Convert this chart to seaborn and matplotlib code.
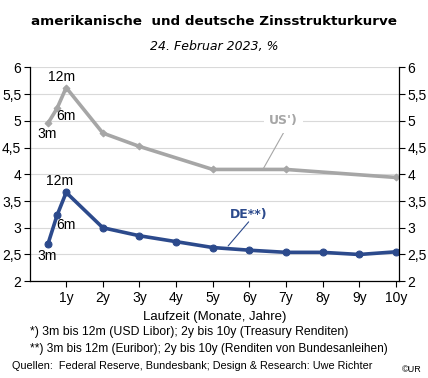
import pandas as pd
import matplotlib.pyplot as plt
import seaborn as sns

# Laufzeiten in Jahren (3m, 6m, 12m, 2y ...)
us_x = [0.5, 0.75, 1, 2, 3, 5, 7, 10]
us_y = [4.95, 5.23, 5.62, 4.77, 4.52, 4.09, 4.09, 3.94]
de_x = [0.5, 0.75, 1, 2, 3, 4, 5, 6, 7, 8, 9, 10]
de_y = [2.69, 3.23, 3.66, 3.00, 2.85, 2.74, 2.63, 2.58, 2.54, 2.54, 2.50, 2.55]
month_labels = ["3m", "6m", "12m"]
year_ticks = [1, 2, 3, 4, 5, 6, 7, 8, 9, 10]
year_labels = [f"{y}y" for y in year_ticks]
y_ticks = [2, 2.5, 3, 3.5, 4, 4.5, 5, 5.5, 6]

us = pd.DataFrame({"x": us_x, "y": us_y})
de = pd.DataFrame({"x": de_x, "y": de_y})

gray = "#a6a6a6"
blue = "#2c4a8c"

sns.set_style("white")
plt.rcParams["font.family"] = ["Liberation Sans", "DejaVu Sans"]
plt.rcParams.update({"text.color": "black", "axes.labelcolor": "black",
                     "xtick.color": "black", "ytick.color": "black"})

fig = plt.figure(figsize=(4.28, 3.78), dpi=100)
ax = fig.add_axes([0.069, 0.256, 0.863, 0.566])

sns.lineplot(data=us, x="x", y="y", ax=ax, color=gray, lw=2.6,
             marker="D", markersize=3.5, markeredgecolor=gray)
sns.lineplot(data=de, x="x", y="y", ax=ax, color=blue, lw=2.6,
             marker="o", markersize=5, markeredgecolor=blue)

ax.set_xlim(0, 10.08)
ax.set_ylim(2, 6)
ax.set_yticks(y_ticks)
ax.set_yticklabels([f"{v:g}".replace(".", ",") for v in y_ticks])
ax.set_xticks(year_ticks)
ax.set_xticklabels(year_labels)
ax.yaxis.grid(True, color="#d9d9d9", lw=0.8)
ax.set_axisbelow(True)
for s in ["left", "right", "bottom"]:
    ax.spines[s].set_color("black")
    ax.spines[s].set_linewidth(0.9)
ax.spines["top"].set_visible(False)
ax.tick_params(axis="y", left=True, right=True, labelright=True, direction="out",
               length=4, width=0.8, labelsize=10, pad=2)
ax.tick_params(axis="x", bottom=True, direction="out", length=4, width=0.8,
               labelsize=10, pad=3)
ax.set_xlabel("Laufzeit (Monate, Jahre)", fontsize=9.5, labelpad=4)
ax.set_ylabel("")

# Monatslabels
us_lab = [(0.47, 4.75), (0.98, 5.08), (0.87, 5.82)]
de_lab = [(0.47, 2.47), (0.98, 3.05), (0.82, 3.87)]
for t, (x, y) in zip(month_labels, us_lab):
    ax.text(x, y, t, ha="center", va="center", fontsize=10)
for t, (x, y) in zip(month_labels, de_lab):
    ax.text(x, y, t, ha="center", va="center", fontsize=10)

# Serienlabels mit Verbindungslinie
ax.plot([6.36, 6.96], [4.08, 4.81], color=gray, lw=0.8)
ax.text(6.93, 5.0, "US')", color=gray, fontweight="bold", fontsize=9,
        family="DejaVu Sans", ha="center", va="center",
        bbox=dict(facecolor="white", edgecolor="none", pad=4))
ax.plot([5.42, 5.98], [2.66, 3.11], color=blue, lw=0.8)
ax.text(5.98, 3.25, "DE**)", color=blue, fontweight="bold", fontsize=9,
        family="DejaVu Sans", ha="center", va="center")

fig.text(0.5, 0.942, "amerikanische  und deutsche Zinsstrukturkurve",
         ha="center", va="center", fontsize=9.7, fontweight="bold",
         family="DejaVu Sans")
fig.text(0.5, 0.878, "24. Februar 2023, %", ha="center", va="center",
         fontsize=9, style="italic", family="DejaVu Sans")

fig.text(30 / 428, 1 - 332 / 378,
         "*) 3m bis 12m (USD Libor); 2y bis 10y (Treasury Renditen)",
         fontsize=8.8, va="center")
fig.text(30 / 428, 1 - 349 / 378,
         "**) 3m bis 12m (Euribor); 2y bis 10y (Renditen von Bundesanleihen)",
         fontsize=8.6, va="center")
fig.text(12 / 428, 1 - 366 / 378,
         "Quellen:  Federal Reserve, Bundesbank; Design & Research: Uwe Richter",
         fontsize=7.8, va="center")
fig.text(0.985, 1 - 369 / 378, "©UR", fontsize=6.5, ha="right", va="center")

fig.savefig("out.png", dpi=100, facecolor="white")
